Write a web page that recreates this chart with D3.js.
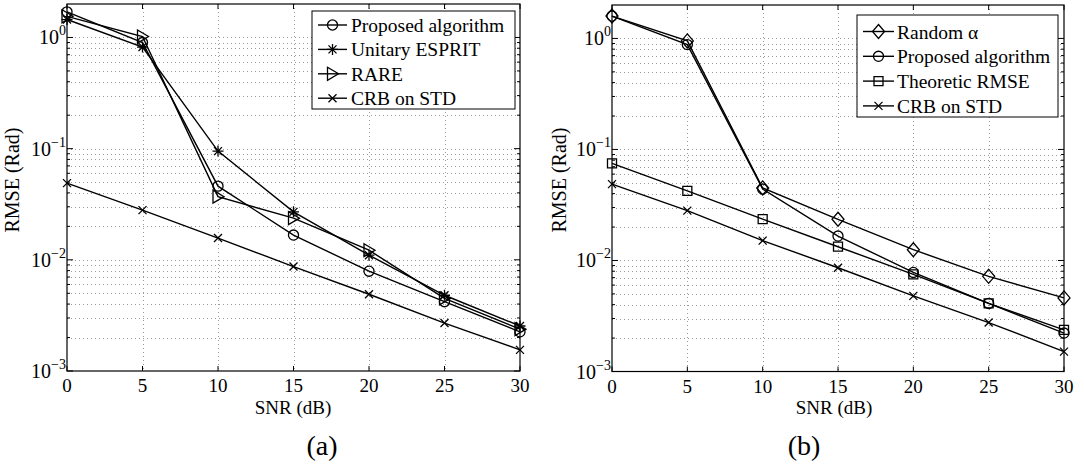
<!DOCTYPE html>
<html>
<head>
<meta charset="utf-8">
<script src="https://cdn.jsdelivr.net/npm/d3@7"></script>
</head>
<body style="margin:0">
<svg id="fig" width="1084" height="468"></svg>
<script>
// ---------- data ----------
const snr = [0, 5, 10, 15, 20, 25, 30];
const xTickLabels = ["0", "5", "10", "15", "20", "25", "30"];
const yDecades = [1e-3, 1e-2, 1e-1, 1e0];
const yDecadeExps = ["−3", "−2", "−1", "0"];

// panel (a)
const proposedA = [1.70, 0.90, 0.046, 0.0167, 0.0079, 0.0042, 0.00225];
const unitaryEsprit = [1.45, 0.82, 0.095, 0.027, 0.011, 0.0048, 0.00254];
const rare = [1.55, 1.02, 0.037, 0.0237, 0.0122, 0.0045, 0.00238];
const crbA = [0.049, 0.028, 0.0157, 0.0087, 0.0049, 0.0027, 0.00155];

// panel (b)
const randomAlpha = [1.59, 0.95, 0.045, 0.0235, 0.0125, 0.0072, 0.0046];
const proposedB = [1.59, 0.88, 0.044, 0.0166, 0.0078, 0.0041, 0.00222];
const theoreticRmse = [0.075, 0.0423, 0.0236, 0.0133, 0.0075, 0.0041, 0.00237];
const crbB = [0.0487, 0.0281, 0.0151, 0.0086, 0.0048, 0.00276, 0.00151];

const legendA = ["Proposed algorithm", "Unitary ESPRIT", "RARE", "CRB on STD"];
const legendB = ["Random α", "Proposed algorithm", "Theoretic RMSE", "CRB on STD"];

// ---------- drawing ----------
const svg = d3.select("#fig");
const serifText = (sel, size) => sel
  .attr("font-family", "Liberation Serif")
  .attr("font-size", size)
  .style("font", `${size}px "Liberation Serif"`);

function markerPath(type) {
  switch (type) {
    case "circle": return d3.symbol(d3.symbolCircle, 80)();
    case "square": return "M-4.5,-4.5H4.5V4.5H-4.5Z";
    case "diamond": return "M0,-7L6,0L0,7L-6,0Z";
    case "triangle": return "M-5,-6.5L6,0L-5,6.5Z";
    case "star": return "M-5.5,0H5.5M0,-5.5V5.5M-4,-4L4,4M-4,4L4,-4";
    case "x": return "M-4,-4L4,4M-4,4L4,-4";
  }
}

function drawPanel(cfg) {
  const g = svg.append("g");
  const x = d3.scaleLinear().domain([0, 30]).range([cfg.left, cfg.right]);
  const y = d3.scaleLog().domain([1e-3, 2]).range([cfg.bottom, cfg.top]);

  const minors = [];
  [1e-3, 1e-2, 1e-1, 1e0].forEach(d => {
    for (let k = 2; k <= 9; k++) { const v = k * d; if (v < 2) minors.push(v); }
  });

  // grid
  const grid = g.append("g").attr("stroke", "#9a9a9a").attr("stroke-width", 1)
    .attr("stroke-dasharray", "1,3");
  grid.selectAll("line.h").data(yDecades.concat(minors).filter(v => v > 1e-3)).join("line")
    .attr("x1", cfg.left).attr("x2", cfg.right)
    .attr("y1", d => Math.round(y(d)) + 0.5).attr("y2", d => Math.round(y(d)) + 0.5);
  grid.selectAll("line.v").data(snr.filter(v => v > 0 && v < 30)).join("line")
    .attr("y1", cfg.top).attr("y2", cfg.bottom)
    .attr("x1", d => Math.round(x(d)) + 0.5).attr("x2", d => Math.round(x(d)) + 0.5);

  // ticks (inward) from the scales
  const ticks = g.append("g").attr("stroke", "#000").attr("stroke-width", 1);
  snr.forEach(v => {
    ticks.append("line").attr("x1", x(v)).attr("x2", x(v)).attr("y1", cfg.bottom).attr("y2", cfg.bottom - 5);
    ticks.append("line").attr("x1", x(v)).attr("x2", x(v)).attr("y1", cfg.top).attr("y2", cfg.top + 5);
  });
  yDecades.concat(minors).forEach(v => {
    const len = yDecades.includes(v) ? 6 : 3;
    ticks.append("line").attr("x1", cfg.left).attr("x2", cfg.left + len).attr("y1", y(v)).attr("y2", y(v));
    ticks.append("line").attr("x1", cfg.right).attr("x2", cfg.right - len).attr("y1", y(v)).attr("y2", y(v));
  });

  // x tick labels
  snr.forEach((v, i) => {
    serifText(g.append("text").attr("x", x(v)).attr("y", cfg.bottom + 21).attr("text-anchor", "middle"), 19)
      .text(xTickLabels[i]);
  });

  // y tick labels with superscripts
  yDecades.forEach((v, i) => {
    const t = serifText(g.append("text").attr("x", cfg.left - 1).attr("y", y(v) + 7)
      .attr("text-anchor", "end"), 20);
    serifText(t.append("tspan"), 20).text("10");
    serifText(t.append("tspan").attr("dy", -9), 14).text(yDecadeExps[i]);
  });

  g.append("rect").attr("x", cfg.left).attr("y", cfg.top)
    .attr("width", cfg.right - cfg.left).attr("height", cfg.bottom - cfg.top)
    .attr("fill", "none").attr("stroke", "#000").attr("stroke-width", 1.2);

  const line = d3.line().x((d, i) => x(snr[i])).y(d => y(d));
  cfg.series.forEach(s => {
    g.append("path").datum(s.values).attr("d", line)
      .attr("fill", "none").attr("stroke", "#000").attr("stroke-width", 1.4);
    g.selectAll(null).data(s.values).join("path")
      .attr("transform", (d, i) => `translate(${x(snr[i])},${y(d)})`)
      .attr("d", markerPath(s.marker))
      .attr("fill", "none").attr("stroke", "#000").attr("stroke-width", 1.3);
  });

  serifText(g.append("text").attr("x", cfg.xTitleX).attr("y", 414).attr("text-anchor", "middle"), 19)
    .text("SNR (dB)");
  serifText(g.append("text").attr("transform", `translate(${cfg.yTitleX},${180}) rotate(-90)`)
    .attr("text-anchor", "middle"), 20).text("RMSE (Rad)");
  serifText(g.append("text").attr("x", cfg.captionX).attr("y", 455).attr("text-anchor", "middle"), 28)
    .text(cfg.caption);

  const L = cfg.legend;
  g.append("rect").attr("x", L.x0).attr("y", L.y0).attr("width", L.x1 - L.x0).attr("height", L.y1 - L.y0)
    .attr("fill", "#fff").attr("stroke", "#000").attr("stroke-width", 1);
  cfg.series.forEach((s, i) => {
    const yy = L.firstY + i * L.step;
    g.append("line").attr("x1", L.lx0).attr("x2", L.lx1).attr("y1", yy).attr("y2", yy)
      .attr("stroke", "#000").attr("stroke-width", 1.4);
    g.append("path").attr("transform", `translate(${(L.lx0 + L.lx1) / 2},${yy})`)
      .attr("d", markerPath(s.marker)).attr("fill", "none").attr("stroke", "#000").attr("stroke-width", 1.3);
    serifText(g.append("text").attr("x", L.tx).attr("y", yy + 7), 19.5).text(s.name);
  });
}

drawPanel({
  left: 67, right: 520, top: 4, bottom: 371,
  xTitleX: 293, yTitleX: 19, captionX: 322, caption: "(a)",
  series: [
    { name: legendA[0], values: proposedA, marker: "circle" },
    { name: legendA[1], values: unitaryEsprit, marker: "star" },
    { name: legendA[2], values: rare, marker: "triangle" },
    { name: legendA[3], values: crbA, marker: "x" }
  ],
  legend: { x0: 312, x1: 515, y0: 11, y1: 109, firstY: 25, step: 24.4, lx0: 318, lx1: 347, tx: 351 }
});

drawPanel({
  left: 612, right: 1064, top: 5, bottom: 371.5,
  xTitleX: 834, yTitleX: 566, captionX: 804, caption: "(b)",
  series: [
    { name: legendB[0], values: randomAlpha, marker: "diamond" },
    { name: legendB[1], values: proposedB, marker: "circle" },
    { name: legendB[2], values: theoreticRmse, marker: "square" },
    { name: legendB[3], values: crbB, marker: "x" }
  ],
  legend: { x0: 857, x1: 1058, y0: 15, y1: 117, firstY: 31.5, step: 24.8, lx0: 863, lx1: 894, tx: 897 }
});
</script>
</body>
</html>
